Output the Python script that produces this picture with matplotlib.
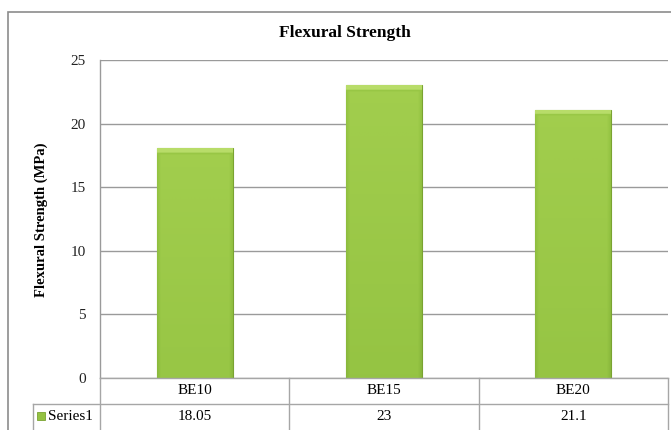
import numpy as np
import matplotlib
matplotlib.use("Agg")
import matplotlib.pyplot as plt
from matplotlib.colors import LinearSegmentedColormap
from matplotlib.patches import Rectangle

categories = ["BE10", "BE15", "BE20"]
strength = [18.05, 23, 21.1]
value_labels = ["18.05", "23", "21.1"]
series_name = "Series1"
yticks = [0, 5, 10, 15, 20, 25]

plt.rcParams["font.family"] = ["Liberation Serif", "DejaVu Serif"]

W, H = 671, 430
fig = plt.figure(figsize=(W / 100, H / 100), dpi=100)

# pixel helpers for figure coordinates
def fx(px):
    return px / W

def fy(py):
    return 1 - py / H

left, right, top, bottom = 100, 668, 60, 378
ax = fig.add_axes([fx(left), fy(bottom), fx(right) - fx(left), fy(top) - fy(bottom)])

x = np.arange(len(categories))
bw = 0.4
bars = ax.bar(x, strength, width=bw, color="#94c242", edgecolor="#7aa332",
              linewidth=0.8, zorder=3)

# bevelled shading: light top, darker towards the base, darker sides
cmap = LinearSegmentedColormap.from_list(
    "g", ["#6f9a2c", "#85b33a", "#95c443", "#a5d050", "#bde070"])
for b in bars:
    x0, w, h = b.get_x(), b.get_width(), b.get_height()
    nx, ny = 80, 500
    u = np.linspace(0, 1, nx)[None, :]
    depth = np.linspace(0, h, ny)[:, None]  # distance from the top
    shade = 0.70 - 0.22 * depth / 25
    edge = np.minimum(u, 1 - u)
    shade = np.where(edge < 0.05, shade - 0.2 * (1 - edge / 0.05), shade)
    shade = np.where(depth < 0.35, 0.95 + 0 * u, shade)
    shade = np.where((depth >= 0.35) & (depth < 0.5), 0.55 + 0 * u, shade)
    im = ax.imshow(shade, cmap=cmap, vmin=0, vmax=1, aspect="auto",
                   extent=[x0, x0 + w, 0, h], origin="upper", zorder=3.5,
                   interpolation="bilinear")
    im.set_clip_path(b)

ax.set_xlim(-0.5, len(categories) - 0.5)
ax.set_ylim(0, 25)
ax.set_yticks(yticks)
ax.set_xticks([])
ax.yaxis.grid(True, color="#9a9a9a", linewidth=1.0, zorder=0)
ax.tick_params(axis="y", length=0, pad=10, labelsize=11, colors="#222222")
for s in ["top", "right", "bottom"]:
    ax.spines[s].set_visible(False)
ax.spines["left"].set_color("#9a9a9a")
ax.spines["left"].set_linewidth(1.0)

fig.text(fx(41), fy(220), "Flexural Strength (MPa)", rotation=90, ha="center",
         va="center", fontsize=10.5, fontweight="bold")
fig.text(fx(345), fy(33), "Flexural Strength", ha="center", va="center",
         fontsize=12.5, fontweight="bold")

# outer chart border
fig.add_artist(Rectangle((fx(8), fy(H + 5)), fx(W + 5) - fx(8), fy(12) - fy(H + 5),
                         transform=fig.transFigure, fill=False,
                         edgecolor="#8c8c8c", linewidth=1.2))

# data table under the axis
grid_c = "#a6a6a6"
row1, row2, row3 = 378, 404, 431
col_w = (right - left) / len(categories)
cols = [left + i * col_w for i in range(len(categories) + 1)]

def hline(y, x0, x1):
    fig.add_artist(plt.Line2D([fx(x0), fx(x1)], [fy(y), fy(y)], transform=fig.transFigure,
                              color=grid_c, linewidth=1.0))

def vline(x0, y0, y1):
    fig.add_artist(plt.Line2D([fx(x0), fx(x0)], [fy(y0), fy(y1)], transform=fig.transFigure,
                              color=grid_c, linewidth=1.0))

hline(row1, left, right)
hline(row2, 33, right)
hline(row3, 33, right)
for c in cols:
    vline(c, row1, row3)
vline(33, row2, row3)

for i, cat in enumerate(categories):
    cx = (cols[i] + cols[i + 1]) / 2
    fig.text(fx(cx), fy((row1 + row2) / 2), cat, ha="center", va="center", fontsize=11)
    fig.text(fx(cx), fy((row2 + row3) / 2 - 1), value_labels[i], ha="center",
             va="center", fontsize=11)

fig.add_artist(Rectangle((fx(37), fy(420)), fx(45) - fx(37), fy(412) - fy(420),
                         transform=fig.transFigure, facecolor="#94c242",
                         edgecolor="#7aa332", linewidth=0.6))
fig.text(fx(48), fy(416), series_name, ha="left", va="center", fontsize=11)

fig.savefig("out.png", dpi=100)
